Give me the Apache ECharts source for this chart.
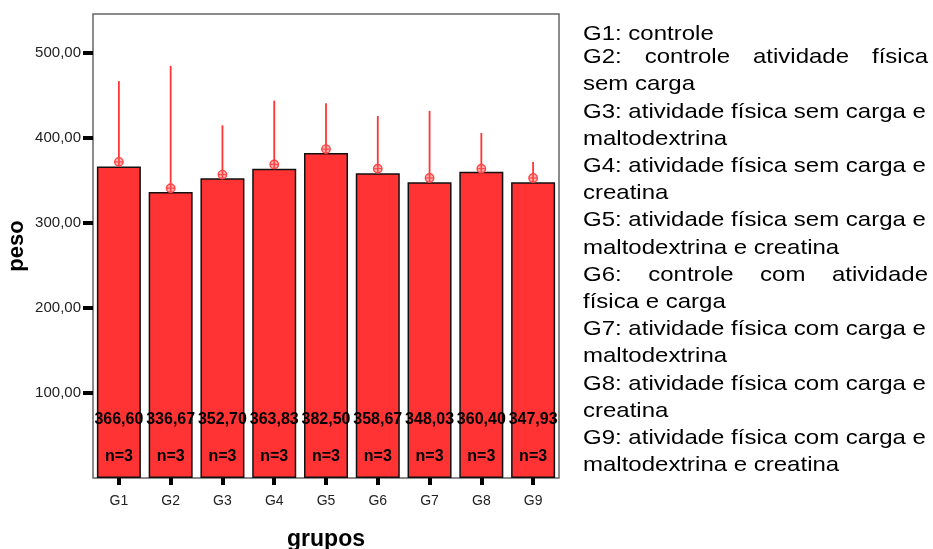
<!DOCTYPE html>
<html>
<head>
<meta charset="utf-8">
<script src="https://cdn.jsdelivr.net/npm/echarts@6/dist/echarts.min.js"></script>
<style>
  html, body { margin: 0; padding: 0; background: #fff; }
  #chart { width: 933px; height: 549px; }
</style>
</head>
<body>
<div id="chart"></div>
<script>
// Groups and mean body weight ("peso") per group
const categories = ['G1', 'G2', 'G3', 'G4', 'G5', 'G6', 'G7', 'G8', 'G9'];
const means = [366.60, 336.67, 352.70, 363.83, 382.50, 358.67, 348.03, 360.40, 347.93];
const counts = [3, 3, 3, 3, 3, 3, 3, 3, 3];
// Error bar centre marker and upper whisker end
const errCenter = [372, 341, 357, 369, 387, 364, 353, 364, 353];
const errUpper = [467, 485, 415, 444, 441, 426, 432, 406, 372];
const yTicks = [100, 200, 300, 400, 500];

// Group descriptions shown beside the chart (justified lines flagged)
const noteLines = [
  'G1: controle',
  'G2: controle atividade física',
  'sem carga',
  'G3: atividade física sem carga e',
  'maltodextrina',
  'G4: atividade física sem carga e',
  'creatina',
  'G5: atividade física sem carga e',
  'maltodextrina e creatina',
  'G6: controle com atividade',
  'física e carga',
  'G7: atividade física com carga e',
  'maltodextrina',
  'G8: atividade física com carga e',
  'creatina',
  'G9: atividade física com carga e',
  'maltodextrina e creatina'
];
const justifiedLines = [1, 9];

const FONT = '"Liberation Sans", Arial, Helvetica, sans-serif';
const fmt = v => v.toFixed(2).replace('.', ',');

// Build the side text block; justified lines are spread over the block width
const NOTE_SIZE = 21;
const NOTE_SCALE_X = 1.143;
const NOTE_WIDTH = 345 / NOTE_SCALE_X;
const measureCtx = document.createElement('canvas').getContext('2d');
measureCtx.font = NOTE_SIZE + 'px ' + FONT;
const noteChildren = [];
noteLines.forEach((line, i) => {
  const y = (i === 0 ? 34 : 57.5 + (i - 1) * 27.2);
  if (justifiedLines.includes(i)) {
    const words = line.split(' ');
    const widths = words.map(w => measureCtx.measureText(w).width);
    const total = widths.reduce((a, b) => a + b, 0);
    const gap = (NOTE_WIDTH - total) / (words.length - 1);
    let x = 0;
    words.forEach((w, k) => {
      noteChildren.push({
        type: 'text', x: x, y: y,
        style: { text: w, fontSize: NOTE_SIZE, fontFamily: FONT, fill: '#000',
                 textAlign: 'left', textVerticalAlign: 'middle', align: 'left', verticalAlign: 'middle' }
      });
      x += widths[k] + gap;
    });
  } else {
    noteChildren.push({
      type: 'text', x: 0, y: y,
      style: { text: line, fontSize: NOTE_SIZE, fontFamily: FONT, fill: '#000',
               textAlign: 'left', textVerticalAlign: 'middle', align: 'left', verticalAlign: 'middle' }
    });
  }
});

const chart = echarts.init(document.getElementById('chart'), null, { renderer: 'canvas' });

const option = {
  animation: false,
  backgroundColor: '#fff',
  textStyle: { fontFamily: FONT },
  grid: {
    left: 93, right: 374, top: 14, bottom: 71,
    show: true, borderColor: '#666', borderWidth: 1.5, backgroundColor: '#fff',
    outerBoundsMode: 'none'
  },
  xAxis: {
    type: 'category',
    data: categories,
    name: 'grupos',
    nameLocation: 'middle',
    nameGap: 50,
    nameTextStyle: { fontSize: 23, fontWeight: 'bold', color: '#000', fontFamily: FONT },
    axisLine: { show: false },
    axisTick: { show: true, alignWithLabel: true, length: 7, lineStyle: { color: '#000', width: 4 } },
    axisLabel: { fontSize: 14, color: '#222', margin: 16, fontFamily: FONT },
    splitLine: { show: false }
  },
  yAxis: {
    type: 'value',
    min: 0, max: 546, interval: 100,
    name: 'peso',
    nameLocation: 'middle',
    nameGap: 65,
    nameTextStyle: { fontSize: 22, fontWeight: 'bold', color: '#000', fontFamily: FONT },
    axisLine: { show: false },
    splitLine: { show: false },
    axisTick: { show: true, length: 10, lineStyle: { color: '#000', width: 4 }, customValues: yTicks },
    axisLabel: { customValues: yTicks, formatter: v => fmt(v), fontSize: 15, color: '#222', margin: 12, fontFamily: FONT }
  },
  series: [
    {
      name: 'peso',
      type: 'bar',
      data: means,
      barCategoryGap: '15%',
      barGap: '-100%',
      itemStyle: { color: '#ff3333', borderColor: '#111', borderWidth: 1.5 },
      label: {
        show: true, position: 'insideBottom', distance: 50,
        formatter: p => fmt(p.value),
        fontSize: 16, fontWeight: 'bold', color: '#000', fontFamily: FONT
      },
      z: 2
    },
    {
      name: 'n',
      type: 'bar',
      data: means,
      barCategoryGap: '15%',
      barGap: '-100%',
      silent: true,
      itemStyle: { color: 'rgba(0,0,0,0)', borderWidth: 0 },
      label: {
        show: true, position: 'insideBottom', distance: 13,
        formatter: p => 'n=' + counts[p.dataIndex],
        fontSize: 16, fontWeight: 'bold', color: '#000', fontFamily: FONT
      },
      z: 3
    },
    {
      name: 'erro',
      type: 'custom',
      data: categories.map((c, i) => [i, errCenter[i], errUpper[i], means[i]]),
      encode: { x: 0, y: [1, 2, 3] },
      z: 4,
      renderItem: (params, api) => {
        const idx = api.value(0);
        const x = api.coord([idx, 0])[0];
        const yMean = api.coord([idx, api.value(3)])[1];
        const yC = api.coord([idx, api.value(1)])[1];
        const yU = api.coord([idx, api.value(2)])[1];
        const r = 4.2;
        return {
          type: 'group',
          children: [
            { type: 'line', shape: { x1: x, y1: yMean, x2: x, y2: yU }, style: { stroke: '#ff3535', lineWidth: 1.8 } },
            { type: 'circle', shape: { cx: x, cy: yC, r: r }, style: { fill: 'rgba(255,130,130,0.6)', stroke: '#ff4444', lineWidth: 1.4 } },
            { type: 'line', shape: { x1: x - r, y1: yC, x2: x + r, y2: yC }, style: { stroke: '#ff4444', lineWidth: 1.1 } },
            { type: 'line', shape: { x1: x, y1: yC - r, x2: x, y2: yC + r }, style: { stroke: '#ff4444', lineWidth: 1.1 } }
          ]
        };
      }
    }
  ],
  graphic: [
    { type: 'group', x: 583, y: 0, scaleX: NOTE_SCALE_X, scaleY: 1, children: noteChildren }
  ]
};

chart.setOption(option);
</script>
</body>
</html>
